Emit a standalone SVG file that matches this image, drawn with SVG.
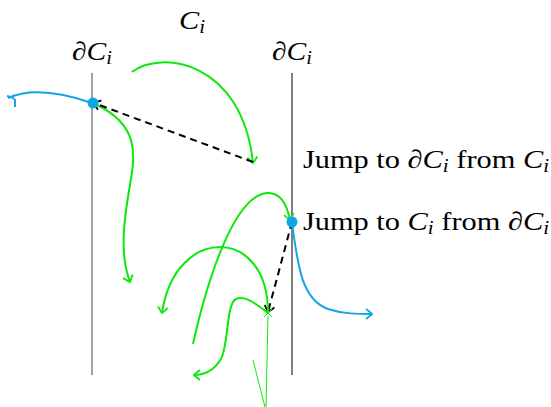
<svg xmlns="http://www.w3.org/2000/svg" width="551" height="407" viewBox="0 0 551 407">
<style>
.t{font-family:"Liberation Serif","Times New Roman",serif;font-size:26px;fill:#000}
.it{font-style:italic}
.sub{font-size:18px;font-style:italic}
.g{fill:none;stroke:#0ee80e;stroke-width:2}
.gt{fill:none;stroke:#0ee80e;stroke-width:1}
.b{fill:none;stroke:#12a5e6;stroke-width:2}
.d{fill:none;stroke:#000;stroke-width:2;stroke-dasharray:7 5}
</style>
<defs>
<marker id="ag" markerUnits="userSpaceOnUse" markerWidth="14" markerHeight="14" viewBox="-8 -7 10 14" refX="0" refY="0" orient="auto" overflow="visible"><path d="M -6 -5 Q -1 -1 0 0 Q -1 1 -6 5" fill="none" stroke="#0ee80e" stroke-width="1.8"/></marker>
<marker id="ab" markerUnits="userSpaceOnUse" markerWidth="14" markerHeight="14" viewBox="-8 -7 10 14" refX="0" refY="0" orient="auto" overflow="visible"><path d="M -6 -5 Q -1 -1 0 0 Q -1 1 -6 5" fill="none" stroke="#12a5e6" stroke-width="1.8"/></marker>
<marker id="ak" markerUnits="userSpaceOnUse" markerWidth="14" markerHeight="14" viewBox="-8 -7 10 14" refX="0" refY="0" orient="auto" overflow="visible"><path d="M -6 -5 Q -1 -1 0 0 Q -1 1 -6 5" fill="none" stroke="#000" stroke-width="1.8"/></marker>
</defs>
<g id="boundary-left"><line x1="92" y1="73" x2="92" y2="375" stroke="#666" stroke-width="1.2"/></g>
<g id="boundary-right"><line x1="292" y1="73" x2="292" y2="375" stroke="#000" stroke-width="1"/></g>
<g id="labels">
<text class="t" x="72" y="60" textLength="40" lengthAdjust="spacingAndGlyphs">∂<tspan class="it">C</tspan><tspan class="sub" dy="4">i</tspan></text>
<text class="t" x="272" y="60" textLength="40" lengthAdjust="spacingAndGlyphs">∂<tspan class="it">C</tspan><tspan class="sub" dy="4">i</tspan></text>
<text class="t" x="179" y="29" textLength="26" lengthAdjust="spacingAndGlyphs"><tspan class="it">C</tspan><tspan class="sub" dy="4">i</tspan></text>
<text class="t" x="303" y="168" textLength="246" lengthAdjust="spacingAndGlyphs">Jump to ∂<tspan class="it">C</tspan><tspan class="sub" dy="4">i</tspan><tspan dy="-4"> from </tspan><tspan class="it">C</tspan><tspan class="sub" dy="4">i</tspan></text>
<text class="t" x="303" y="230" textLength="246" lengthAdjust="spacingAndGlyphs">Jump to <tspan class="it">C</tspan><tspan class="sub" dy="4">i</tspan><tspan dy="-4"> from ∂</tspan><tspan class="it">C</tspan><tspan class="sub" dy="4">i</tspan></text>
</g>
<g id="connectors">
<path class="b" d="M 8 98 C 30 88, 60 92, 92 103"/>
<path class="b" d="M 7 96 Q 13 97 15 100 L 15 107" stroke-width="1.8"/>
<path class="g" d="M 95 104 C 140 125, 135 155, 130 185 C 123 225, 120 255, 130 282" marker-end="url(#ag)"/>
<path class="g" d="M 132 72 C 160 50, 242 60, 253 163" marker-end="url(#ag)"/>
<path class="d" d="M 253 162 L 94 103" marker-end="url(#ak)"/>
<path class="g" d="M 193 344 C 205 290, 232 196, 267 193 C 281 192, 287 205, 290 220" marker-end="url(#ag)"/>
<path class="b" d="M 292 222 C 298 270, 303 300, 328 309 C 343 314, 358 314, 372 314" marker-end="url(#ab)"/>
<path class="d" d="M 292 222 L 268 312" marker-end="url(#ak)"/>
<path class="g" d="M 268 313 C 268 225, 175 225, 162 313" marker-end="url(#ag)"/>
<path class="g" d="M 268 313 C 255 303, 245 295, 236 299 C 226 304, 229 343, 221 359 C 213 372, 203 375, 194 375" marker-end="url(#ag)"/>
<path class="gt" d="M 268 316 L 266 407 M 253 360 L 265 407 M 264 309 L 272 317 M 272 309 L 264 317"/>
</g>
<g id="point-left"><circle cx="93" cy="103" r="5.5" fill="#12a5e6"/></g>
<g id="point-right"><circle cx="292" cy="222" r="5.5" fill="#12a5e6"/></g>
</svg>
